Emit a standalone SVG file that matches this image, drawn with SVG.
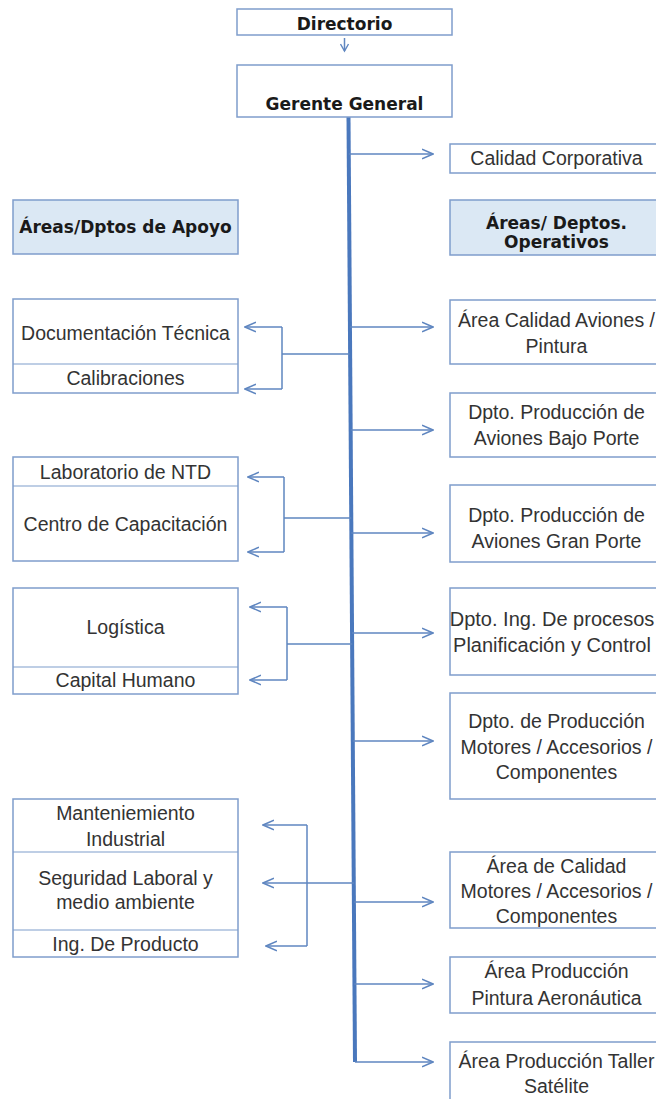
<svg xmlns="http://www.w3.org/2000/svg" width="656" height="1099" viewBox="0 0 656 1099">
<defs>
<style>
.box{fill:#ffffff;stroke:#7f9dcc;stroke-width:1.5}
.hdr{fill:#dbe8f4;stroke:#7f9dcc;stroke-width:1.5}
.dv{stroke:#7f9dcc;stroke-width:1.2}
.t{font-family:"Liberation Sans",Arial,sans-serif;font-size:19.5px;fill:#333333;text-anchor:middle}
.b{font-family:"DejaVu Sans",Verdana,sans-serif;font-weight:bold;font-size:17px;fill:#1a1a1a;text-anchor:middle}
.c{stroke:#5f86c0;stroke-width:1.5;fill:none}
.ca{stroke:#5f86c0;stroke-width:1.5;fill:none;marker-end:url(#arr)}
.main{stroke:#4a78bd;stroke-width:4;fill:none}
</style>
<marker id="arr" viewBox="0 0 12 12" refX="11" refY="6" markerWidth="12" markerHeight="12" markerUnits="userSpaceOnUse" orient="auto">
<path d="M0,1.2 L11,6 L0,10.8" fill="none" stroke="#5f86c0" stroke-width="1.5"/>
</marker>
<marker id="arrs" viewBox="0 0 10 10" refX="8" refY="5" markerWidth="10" markerHeight="10" markerUnits="userSpaceOnUse" orient="auto">
<path d="M1,1 L8,5 L1,9" fill="none" stroke="#5f86c0" stroke-width="1.4"/>
</marker>
</defs>
<rect width="656" height="1099" fill="#ffffff"/>

<g id="connectors">
<line class="main" x1="348.5" y1="117" x2="355" y2="1062"/>
<line class="c" x1="344.5" y1="38" x2="344.5" y2="51" style="marker-end:url(#arrs)"/>
<line class="ca" x1="348.8" y1="154" x2="433" y2="154"/>
<line class="ca" x1="349.9" y1="327" x2="433" y2="327"/>
<line class="ca" x1="350.6" y1="430" x2="433" y2="430"/>
<line class="ca" x1="351.3" y1="533" x2="433" y2="533"/>
<line class="ca" x1="352" y1="633" x2="433" y2="633"/>
<line class="ca" x1="352.7" y1="741" x2="433" y2="741"/>
<line class="ca" x1="353.8" y1="902" x2="433" y2="902"/>
<line class="ca" x1="354.3" y1="984" x2="433" y2="984"/>
<line class="ca" x1="355" y1="1062" x2="433" y2="1062"/>
<path class="c" d="M349.8,354 H282 M282,327 V389"/>
<line class="ca" x1="282" y1="327" x2="245" y2="327"/>
<line class="ca" x1="282" y1="389" x2="245" y2="389"/>
<path class="c" d="M351.3,518 H284 M284,477 V552"/>
<line class="ca" x1="284" y1="477" x2="248" y2="477"/>
<line class="ca" x1="284" y1="552" x2="248" y2="552"/>
<path class="c" d="M352.3,644 H287 M287,607 V680"/>
<line class="ca" x1="287" y1="607" x2="250" y2="607"/>
<line class="ca" x1="287" y1="680" x2="250" y2="680"/>
<path class="c" d="M307,825 V946"/>
<line class="ca" x1="354.1" y1="883" x2="263" y2="883"/>
<line class="ca" x1="307" y1="825" x2="263" y2="825"/>
<line class="ca" x1="307" y1="946" x2="266" y2="946"/>
</g>

<g id="directorio">
<rect class="box" x="237" y="9" width="215" height="26"/>
<text class="b" x="344.5" y="30">Directorio</text>
</g>
<g id="gerente">
<rect class="box" x="237" y="65" width="215" height="52"/>
<text class="b" x="344.5" y="110">Gerente General</text>
</g>

<g id="calidad-corporativa">
<rect class="box" x="450" y="144" width="213" height="29"/>
<text class="t" x="556.5" y="165">Calidad Corporativa</text>
</g>
<g id="hdr-operativos">
<rect class="hdr" x="450" y="200" width="213" height="55"/>
<text class="b" x="556.5" y="229">Áreas/ Deptos.</text>
<text class="b" x="556.5" y="248">Operativos</text>
</g>
<g id="calidad-aviones">
<rect class="box" x="450" y="300" width="213" height="64"/>
<text class="t" x="556.5" y="327">Área Calidad Aviones /</text>
<text class="t" x="556.5" y="353">Pintura</text>
</g>
<g id="bajo-porte">
<rect class="box" x="450" y="393" width="213" height="64"/>
<text class="t" x="556.5" y="419">Dpto. Producción de</text>
<text class="t" x="556.5" y="445">Aviones Bajo Porte</text>
</g>
<g id="gran-porte">
<rect class="box" x="450" y="485" width="213" height="77"/>
<text class="t" x="556.5" y="522">Dpto. Producción de</text>
<text class="t" x="556.5" y="548">Aviones Gran Porte</text>
</g>
<g id="ing-procesos">
<rect class="box" x="450" y="588" width="213" height="87"/>
<text class="t" x="552" y="626" style="font-size:20px">Dpto. Ing. De procesos</text>
<text class="t" x="552" y="652" style="font-size:20px">Planificación y Control</text>
</g>
<g id="prod-motores">
<rect class="box" x="450" y="693" width="213" height="106"/>
<text class="t" x="556.5" y="728">Dpto. de Producción</text>
<text class="t" x="556.5" y="754">Motores / Accesorios /</text>
<text class="t" x="556.5" y="779">Componentes</text>
</g>
<g id="calidad-motores">
<rect class="box" x="450" y="852" width="213" height="76"/>
<text class="t" x="556.5" y="873">Área de Calidad</text>
<text class="t" x="556.5" y="898">Motores / Accesorios /</text>
<text class="t" x="556.5" y="923">Componentes</text>
</g>
<g id="pintura-aero">
<rect class="box" x="450" y="957" width="213" height="56"/>
<text class="t" x="556.5" y="978">Área Producción</text>
<text class="t" x="556.5" y="1005">Pintura Aeronáutica</text>
</g>
<g id="taller-satelite">
<rect class="box" x="450" y="1042" width="213" height="70"/>
<text class="t" x="556.5" y="1068">Área Producción Taller</text>
<text class="t" x="556.5" y="1093">Satélite</text>
</g>

<g id="hdr-apoyo">
<rect class="hdr" x="13" y="200" width="225" height="54"/>
<text class="b" x="125.5" y="233">Áreas/Dptos de Apoyo</text>
</g>
<g id="doc-calib">
<rect class="box" x="13" y="299" width="225" height="94"/>
<line class="dv" x1="13" y1="364" x2="238" y2="364"/>
<text class="t" x="125.5" y="340">Documentación Técnica</text>
<text class="t" x="125.5" y="385">Calibraciones</text>
</g>
<g id="lab-centro">
<rect class="box" x="13" y="457" width="225" height="104"/>
<line class="dv" x1="13" y1="486" x2="238" y2="486"/>
<text class="t" x="125.5" y="479">Laboratorio de NTD</text>
<text class="t" x="125.5" y="531">Centro de Capacitación</text>
</g>
<g id="logistica">
<rect class="box" x="13" y="588" width="225" height="106"/>
<line class="dv" x1="13" y1="667" x2="238" y2="667"/>
<text class="t" x="125.5" y="634">Logística</text>
<text class="t" x="125.5" y="687">Capital Humano</text>
</g>
<g id="mantenimiento">
<rect class="box" x="13" y="799" width="225" height="158"/>
<line class="dv" x1="13" y1="852" x2="238" y2="852"/>
<line class="dv" x1="13" y1="930" x2="238" y2="930"/>
<text class="t" x="125.5" y="820">Manteniemiento</text>
<text class="t" x="125.5" y="846">Industrial</text>
<text class="t" x="125.5" y="885">Seguridad Laboral y</text>
<text class="t" x="125.5" y="909">medio ambiente</text>
<text class="t" x="125.5" y="951">Ing. De Producto</text>
</g>
</svg>
